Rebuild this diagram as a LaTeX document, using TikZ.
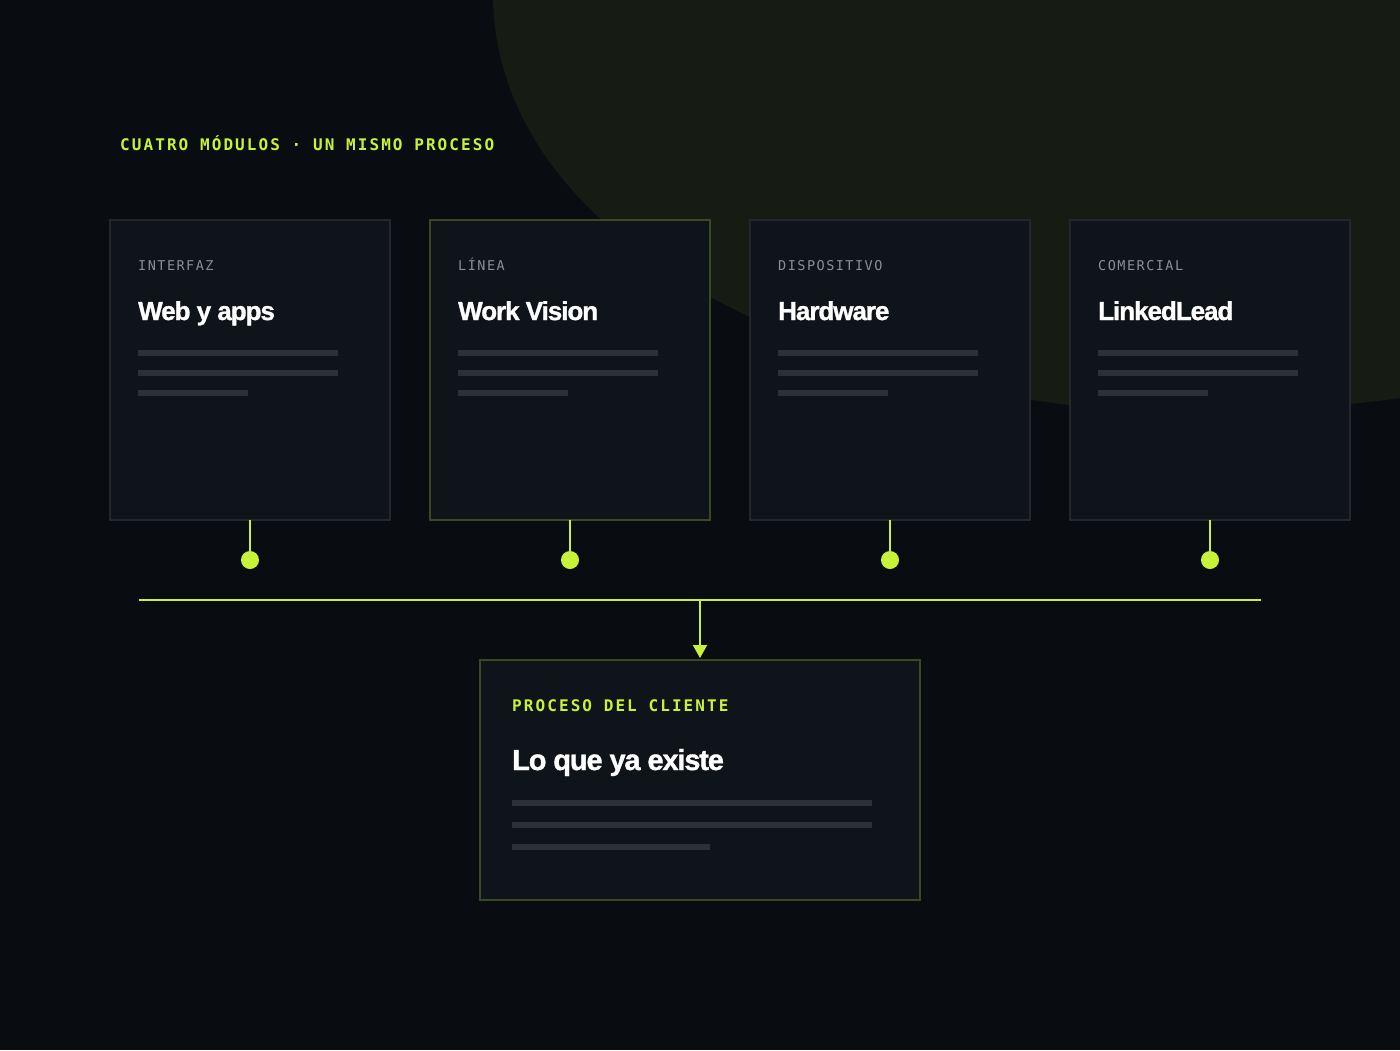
\documentclass[tikz,border=0pt]{standalone}
\usepackage{fontspec}
\setmainfont{Liberation Sans}
\newfontfamily\labelmono[LetterSpace=11]{DejaVu Sans Mono}
\newfontfamily\titlemono[LetterSpace=13]{DejaVu Sans Mono}
\newfontfamily\headsans[LetterSpace=-4, BoldFeatures={FakeBold=1.2}]{Liberation Sans}
\usepackage{tikz}
\usetikzlibrary{positioning,
                arrows.meta}                % arrow tips

\definecolor{bgdark}{HTML}{090C10}
\definecolor{blob}{HTML}{161B13}
\definecolor{cardfill}{HTML}{0F131A}
\definecolor{cardline}{HTML}{23272E}
\definecolor{oliveline}{HTML}{3B4824}
\definecolor{lime}{HTML}{C8F23A}
\definecolor{kickergray}{HTML}{8A8F98}
\definecolor{bargray}{HTML}{2C3039}

\begin{document}
\begin{tikzpicture}[x=1pt,y=-1pt,
    card/.style={draw=cardline, fill=cardfill, line width=1.5pt, minimum width=280pt,
                 minimum height=300pt, inner sep=0pt, outer sep=0pt, anchor=north west},
    kicker/.style={anchor=base west, inner sep=0pt, text=kickergray,
                   font=\labelmono\fontsize{13.5}{16}\selectfont},
    greenkicker/.style={kicker, text=lime, font=\titlemono\bfseries\fontsize{16}{18}\selectfont},
    heading/.style={anchor=base west, inner sep=0pt, text=white,
                    font=\headsans\bfseries\fontsize{26}{30}\selectfont},
    bar/.style={fill=bargray, minimum height=6pt, inner sep=0pt, outer sep=0pt, anchor=north west},
    pin/.style={circle, fill=lime, minimum size=18pt, inner sep=0pt},
    wire/.style={draw=lime, line width=2pt}]

      % background and soft olive shape
      \fill[bgdark] (0,0) rectangle (1400,1050);
      \useasboundingbox (0,0) rectangle (1400,1050);
      \fill[blob] (493,0) .. controls (500,250) and (830,395) .. (1150,412)
          .. controls (1280,412) and (1350,405) .. (1400,398) -- (1400,0) -- cycle;

      \node[greenkicker] (title) at (120,150) {CUATRO MÓDULOS · UN MISMO PROCESO};

      % the four modules
      \foreach \i/\x/\kick/\head/\edge in {1/110/INTERFAZ/Web y apps/cardline,
                                           2/430/LÍNEA/Work Vision/oliveline,
                                           3/750/DISPOSITIVO/Hardware/cardline,
                                           4/1070/COMERCIAL/LinkedLead/cardline} {
        \node[card, draw=\edge] (mod\i) at (\x,220) {};
        \node[kicker] (kick\i) at ([xshift=28pt,yshift=-50pt]mod\i.north west) {\kick};
        \node[heading] (head\i) at ([xshift=28pt,yshift=-100pt]mod\i.north west) {\head};
        \node[bar, minimum width=200pt] (bara\i) at ([xshift=28pt,yshift=-130pt]mod\i.north west) {};
        \node[bar, minimum width=200pt] (barb\i) at ([yshift=-20pt]bara\i.north west) {};
        \node[bar, minimum width=110pt] (barc\i) at ([yshift=-20pt]barb\i.north west) {};
        \node[pin] (pin\i) at ([yshift=-40pt]mod\i.south) {};
        \draw[wire] (mod\i.south) -- (pin\i.north);
      }

      % common line
      \coordinate (busL) at (139,600);
      \coordinate (busR) at (1261,600);
      \coordinate (tap) at (700,600);
      \draw[wire] (busL) -- (busR);

      % client process
      \node[card, draw=oliveline, minimum width=440pt, minimum height=240pt] (proc) at (480,660) {};
      \draw[wire, -{Triangle[width=14pt,length=13pt]}, shorten >=2pt] (tap) -- (proc.north);
      \node[greenkicker] (prockick) at ([xshift=32pt,yshift=-51pt]proc.north west) {PROCESO DEL CLIENTE};
      \node[heading, font=\headsans\bfseries\fontsize{29}{33}\selectfont] (prochead)
          at ([xshift=32pt,yshift=-110pt]proc.north west) {Lo que ya existe};
      \node[bar, minimum width=360pt] (procbara) at ([xshift=32pt,yshift=-140pt]proc.north west) {};
      \node[bar, minimum width=360pt] (procbarb) at ([yshift=-22pt]procbara.north west) {};
      \node[bar, minimum width=198pt] (procbarc) at ([yshift=-22pt]procbarb.north west) {};
    \end{tikzpicture}
\end{document}
